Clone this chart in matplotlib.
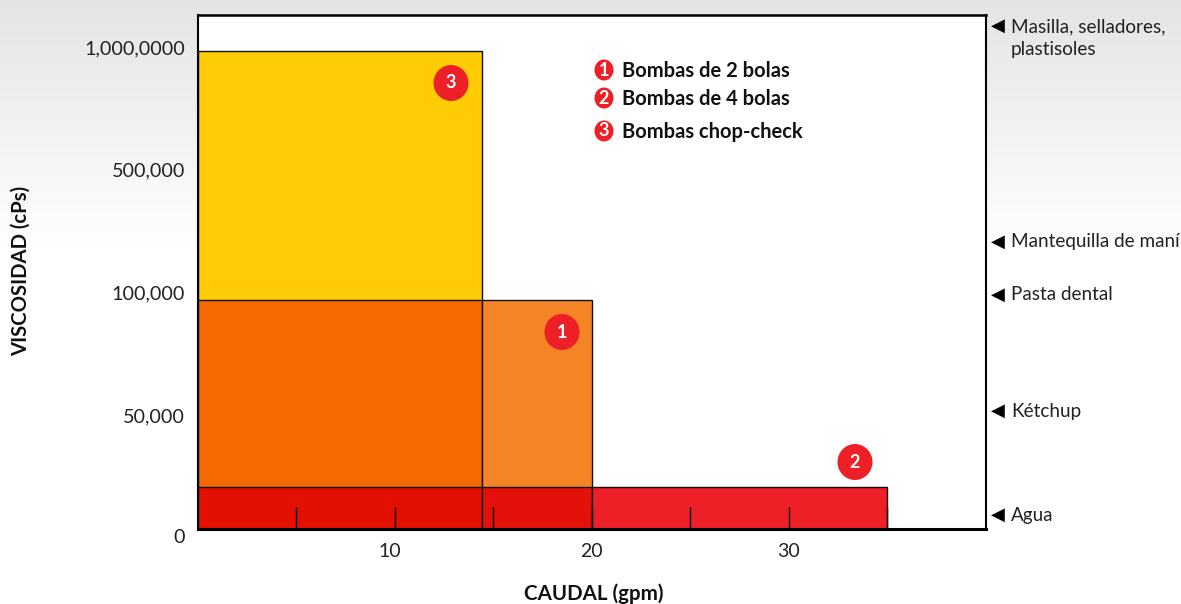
import numpy as np
import matplotlib
matplotlib.use("Agg")
import matplotlib.pyplot as plt
from matplotlib.patches import Ellipse
from matplotlib.transforms import ScaledTranslation

plt.rcParams['font.family'] = ['Lato', 'DejaVu Sans']

# segmentos de las barras (gpm, cPs)
seg_izq = [0, 0, 14.44, 0, 14.44, 20]
seg_ancho = [14.44, 14.44, 5.56, 14.44, 5.56, 15]
seg_alto = [983600, 96750, 96750, 18400, 18400, 18400]
seg_color = ['#FFCC05', '#F56A00', '#F58426', '#E30F00', '#E4110A', '#EE2027']

x_ticks = [5, 10, 15, 20, 25, 30, 35]
x_labels = ['', '10', '', '20', '', '30', '']
y_ticks = [0, 50000, 100000, 500000, 1000000]
y_labels = ['0', '50,000', '100,000', '500,000', '1,000,0000']

# escala no lineal del eje de viscosidad
esc_val = [0, 50000, 100000, 500000, 1000000, 1131000]
esc_pos = [0, 114, 237, 360, 482, 514]

materiales = ['Masilla, selladores,\nplastisoles', 'Mantequilla de maní', 'Pasta dental', 'Kétchup', 'Agua']
materiales_y = [38, 242, 295, 411, 515]
bombas = ['Bombas de 2 bolas', 'Bombas de 4 bolas', 'Bombas chop-check']
bombas_y = [70, 98, 131]
numeros = [(562, 332, '1'), (855, 462, '2'), (451, 83, '3')]

W, H = 1181, 604
fig = plt.figure(figsize=(W / 100, H / 100), dpi=100, facecolor='white')

#? Fondo degradado
fondo = fig.add_axes([0, 0, 1, 1], zorder=0)
grad = np.ones((H, 2, 3))
grad[:250, :, :] = np.linspace(0.895, 1.0, 250)[:, None, None]
fondo.imshow(grad, aspect='auto')
fondo.axis('off')

#? Grafica
ax = fig.add_axes([197.5 / W, (H - 529) / H, 788 / W, 514 / H], zorder=1)
ax.set_facecolor('white')
ax.set_yscale('function', functions=(lambda v: np.interp(v, esc_val, esc_pos),
                                     lambda p: np.interp(p, esc_pos, esc_val)))
ax.bar(seg_izq, seg_alto, seg_ancho, align='edge', color=seg_color, edgecolor='#111111', linewidth=1.0)
ax.set_xlim(0, 40)
ax.set_ylim(0, 1131000)

ax.set_xticks(x_ticks)
ax.set_xticklabels(x_labels, fontsize=14, color='#222222')
ax.tick_params(axis='x', direction='in', length=16, width=1.0, color='black', pad=10)
ax.set_yticks(y_ticks)
ax.set_yticklabels(y_labels, fontsize=14.2, color='#222222')
ax.tick_params(axis='y', length=0, pad=9)
ax.get_yticklabels()[0].set_va('top')
ax.get_xticklabels()[1].set_transform(ax.get_xticklabels()[1].get_transform()
                                      + ScaledTranslation(-5 / 100, 0, fig.dpi_scale_trans))
for lado in ax.spines.values():
    lado.set_linewidth(1.5)
ax.spines['top'].set_linewidth(1.8)
ax.spines['bottom'].set_linewidth(2.2)

#? Textos y anotaciones en pixeles
capa = fig.add_axes([0, 0, 1, 1], zorder=2)
capa.set_xlim(0, W)
capa.set_ylim(H, 0)
capa.axis('off')
capa.patch.set_alpha(0)

capa.text(21, 271, 'VISCOSIDAD (cPs)', rotation=90, fontsize=14.6, fontweight='bold', ha='center', va='center', color='#111111')
capa.text(594, 594, 'CAUDAL (gpm)', fontsize=14.8, fontweight='bold', ha='center', va='center', color='#111111')

for nombre, y in zip(materiales, materiales_y):
    capa.text(998, y - 12 if '\n' in nombre else y, '◀', fontsize=13, family='DejaVu Sans', ha='center', va='center', color='black')
    capa.text(1011, y, nombre, fontsize=13.6, ha='left', va='center', color='#222222', linespacing=1.42)

for (x, y, n) in numeros:
    capa.add_patch(Ellipse((x, y), 35, 36, color='#EE2027', lw=0))
    capa.text(x, y, n, color='white', fontsize=13, fontweight='bold', ha='center', va='center')

for i, (nombre, y) in enumerate(zip(bombas, bombas_y)):
    capa.add_patch(Ellipse((604, y), 19, 21, color='#EE2027', lw=0))
    capa.text(604, y, str(i + 1), color='white', fontsize=13, fontweight='bold', ha='center', va='center')
    capa.text(622, y + 1, nombre, fontsize=14.5, fontweight='bold', ha='left', va='center', color='#111111')

fig.savefig('out.png', dpi=100)
